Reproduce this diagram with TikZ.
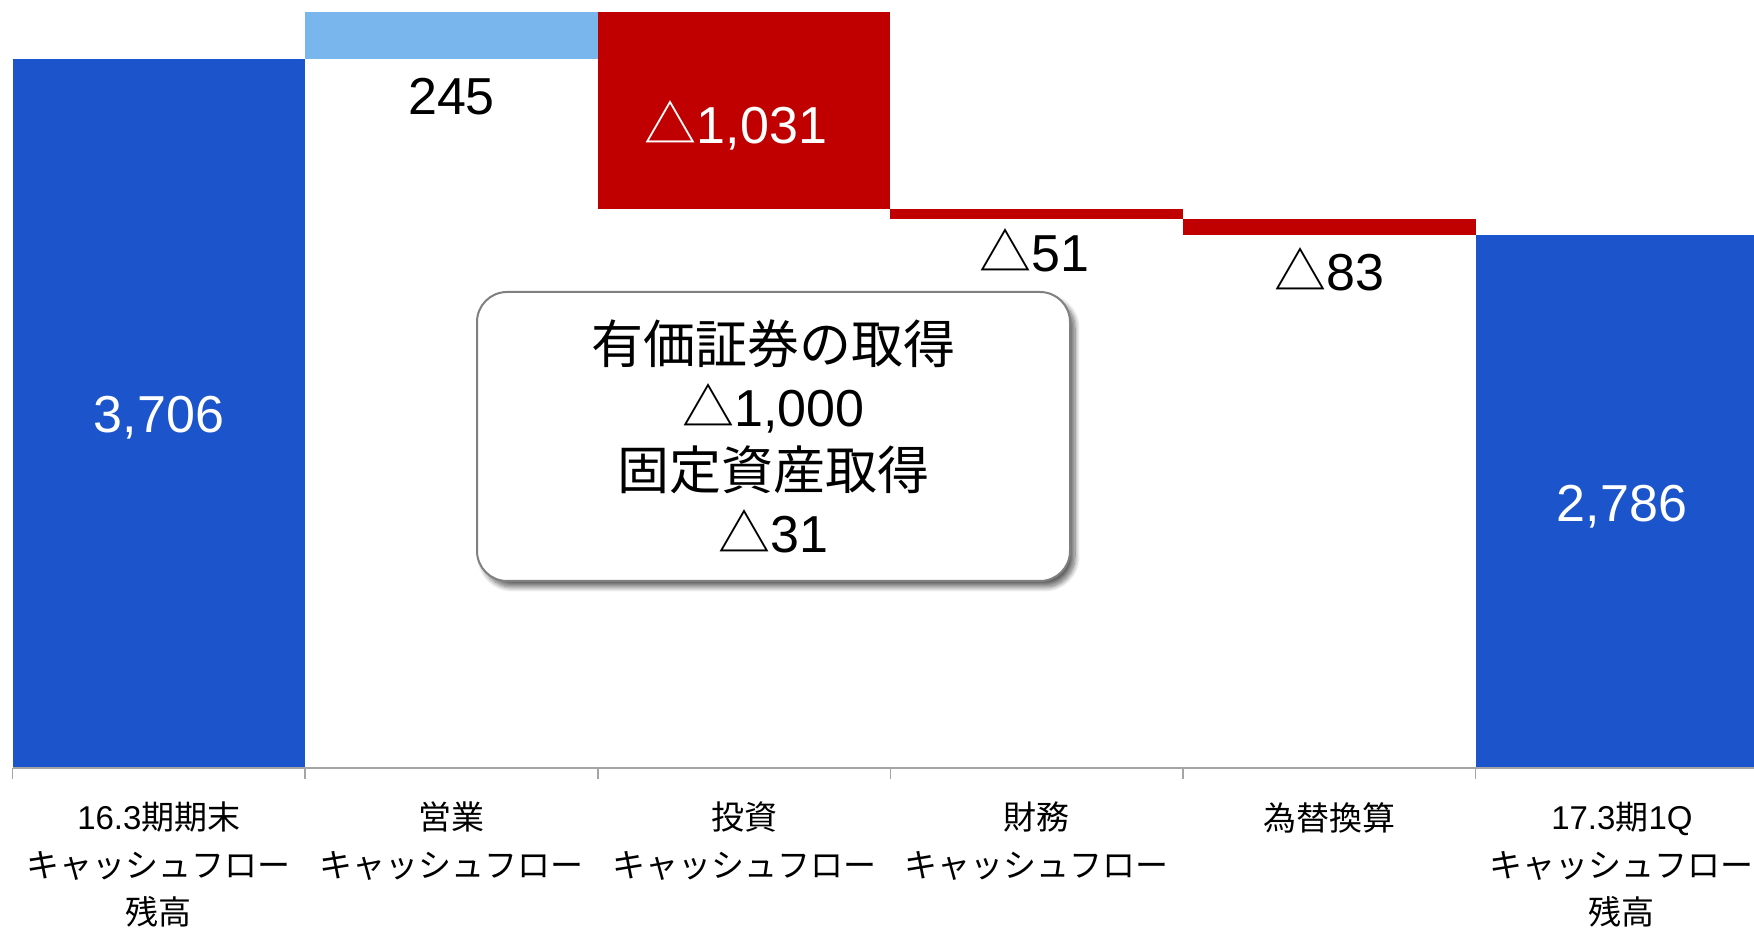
\documentclass[tikz,border=0pt]{standalone}
\usepackage{fontspec}
\setmainfont{Liberation Sans}
\newfontfamily\jp{Noto Sans CJK JP}
\usetikzlibrary{shadows, shadows.blur, positioning}

\definecolor{balblue}{RGB}{28,84,204}
\definecolor{upblue}{RGB}{122,182,238}
\definecolor{downred}{RGB}{192,0,0}
\definecolor{axisgray}{RGB}{165,165,165}
\newcommand{\dlt}{{\jp △}}

\tikzset{
  bigval/.style={font=\fontsize{52}{62}\selectfont, inner sep=0pt, anchor=base},
  catlabel/.style={font=\fontsize{33}{47.5}\selectfont, align=center, inner sep=0pt, anchor=north},
  notebox/.style={draw=gray, line width=2pt, rounded corners=30pt, fill=white, align=center,
    minimum width=593pt, minimum height=289pt, font=\fontsize{52}{63}\selectfont,
    blur shadow={shadow xshift=5pt, shadow yshift=-6pt, shadow blur radius=5pt,
      shadow blur steps=10, shadow opacity=60}}
}

\begin{document}
\begin{tikzpicture}[x=1pt, y=1pt]
  \clip (0,0) rectangle (1754,930);
  % bars: one category = 292.6, cash scale 0.19123 per unit
  \begin{scope}[shift={(12.6,162.3)}, x=292.6pt, y=0.19123pt]
    \fill[balblue] (0,0) rectangle (1,3706);
    \fill[upblue] (1,3706) rectangle (2,3951);
    \fill[downred] (2,3951) rectangle (3,2920);
    \fill[downred] (3,2920) rectangle (4,2869);
    \fill[downred] (4,2869) rectangle (5,2786);
    \fill[balblue] (5,0) rectangle (6,2786);
    \draw[axisgray, line width=2pt] (0,0) -- (6,0);
    \foreach \k in {0,...,6}
      \draw[axisgray, line width=1.5pt] (\k,0) -- ++(0pt,-11pt);
  \end{scope}

  % values
  \node[bigval, white] (v0) at (158.9,497) {3,706};
  \node[bigval] (v1) at (451.5,815.4) {245};
  \node[bigval, white] (v2) at (736,786) {\dlt1,031};
  \node[bigval] (v3) at (1034,658.4) {\dlt51};
  \node[bigval] (v4) at (1329.3,639.4) {\dlt83};
  \node[bigval, white] (v5) at (1621.9,408.3) {2,786};

  \node[notebox] (note) at (773.5,493.5)
    {{\jp 有価証券の取得}\\\dlt1,000\\{\jp 固定資産取得}\\\dlt31};

  % categories
  \node[catlabel] (c1) at (158.9,128) {16.3{\jp 期期末}\\{\jp キャッシュフロー}\\{\jp 残高}};
  \node[catlabel] (c2) at (451.5,128) {{\jp 営業}\\{\jp キャッシュフロー}};
  \node[catlabel] (c3) at (744.1,128) {{\jp 投資}\\{\jp キャッシュフロー}};
  \node[catlabel] (c4) at (1036.7,128) {{\jp 財務}\\{\jp キャッシュフロー}};
  \node[catlabel] (c5) at (1329.3,128) {{\jp 為替換算}};
  \node[catlabel] (c6) at (1621.9,128) {17.3{\jp 期}1Q\\{\jp キャッシュフロー}\\{\jp 残高}};
\end{tikzpicture}
\end{document}
